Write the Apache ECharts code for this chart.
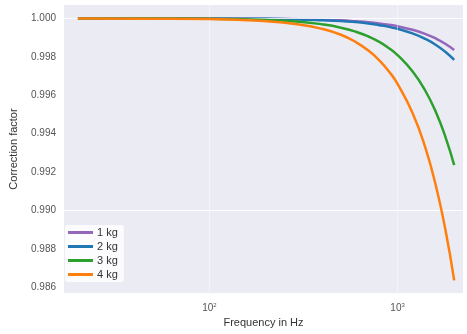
<!DOCTYPE html>
<html><head><meta charset="utf-8">
<script src="https://cdn.jsdelivr.net/npm/echarts@6/dist/echarts.min.js"></script>
<style>html,body{margin:0;padding:0;background:#fff}#c{width:467px;height:334px}</style>
</head><body><div id="c"></div>
<script>
var freqs = [20, 50, 100, 200, 300, 400, 500, 600, 700, 800, 900, 1000, 1200, 1400, 1600, 1800, 2000];
var kg1 = [1.00000, 1.00000, 1.00000, 0.99998, 0.99996, 0.99993, 0.99990, 0.99985, 0.99980, 0.99974, 0.99967, 0.99959, 0.99941, 0.99920, 0.99895, 0.99867, 0.99836];
var kg2 = [1.00000, 1.00000, 0.99999, 0.99998, 0.99995, 0.99991, 0.99987, 0.99981, 0.99974, 0.99965, 0.99956, 0.99946, 0.99922, 0.99894, 0.99862, 0.99825, 0.99784];
var kg3 = [1.00000, 1.00000, 0.99998, 0.99992, 0.99983, 0.99969, 0.99952, 0.99931, 0.99906, 0.99878, 0.99845, 0.99809, 0.99725, 0.99626, 0.99511, 0.99381, 0.99236];
var kg4 = [1.00000, 0.99999, 0.99997, 0.99986, 0.99969, 0.99945, 0.99915, 0.99877, 0.99833, 0.99782, 0.99724, 0.99659, 0.99509, 0.99332, 0.99127, 0.98895, 0.98636];
var seriesNames = ['1 kg', '2 kg', '3 kg', '4 kg'];
var colors = ['#9467bd', '#1f77b4', '#2ca02c', '#ff7f0e'];
var yTicks = [0.986, 0.988, 0.990, 0.992, 0.994, 0.996, 0.998, 1.000];
var xTicks = [100, 1000];
var xTickLabels = {100: '10{s|2}', 1000: '10{s|3}'};

var FONT = "'Liberation Sans', Arial, sans-serif";
var all = [kg1, kg2, kg3, kg4];
var series = all.map(function (vals, i) {
  return {
    name: seriesNames[i], type: 'line', smooth: true, symbol: 'none',
    data: freqs.map(function (f, j) { return [f, vals[j]]; }),
    lineStyle: {width: 2.5, color: colors[i]}, itemStyle: {color: colors[i]}, z: 3 + i
  };
});
series.unshift({
  type: 'line', data: [], silent: true, z: 1,
  markLine: {
    silent: true, symbol: 'none', label: {show: false},
    lineStyle: {color: 'rgba(255,255,255,0.45)', width: 1, type: 'solid'},
    data: yTicks.map(function (v) { return {yAxis: v}; }).concat(xTicks.map(function (v) { return {xAxis: v}; }))
  }
});

var chart = echarts.init(document.getElementById('c'), null, {renderer: 'canvas'});
chart.setOption({
  animation: false,
  backgroundColor: '#ffffff',
  color: colors,
  grid: {left: 61, right: 4, top: 5, bottom: 41, show: true, backgroundColor: '#EBEBF3', borderWidth: 0},
  xAxis: {
    type: 'log', logBase: 10, min: 16.87, max: 2228,
    name: 'Frequency in Hz', nameLocation: 'middle', nameGap: 24,
    nameTextStyle: {fontFamily: FONT, fontSize: 11, color: '#333'},
    axisLine: {show: false}, axisTick: {show: false}, splitLine: {show: false}, minorSplitLine: {show: false},
    axisLabel: {
      customValues: xTicks, margin: 9, fontFamily: FONT, fontSize: 10, color: '#555',
      formatter: function (v) { return xTickLabels[Math.round(v)] || ''; },
      rich: {s: {fontSize: 6, verticalAlign: 'top', padding: [0, 0, 6, 0], fontFamily: FONT, color: '#555'}}
    }
  },
  yAxis: {
    type: 'value', min: 0.9857, max: 1.0007,
    name: 'Correction factor', nameLocation: 'middle', nameGap: 45, nameRotate: 90,
    nameTextStyle: {fontFamily: FONT, fontSize: 11, color: '#333'},
    axisLine: {show: false}, axisTick: {show: false}, splitLine: {show: false},
    axisLabel: {
      customValues: yTicks, margin: 8, fontFamily: FONT, fontSize: 10, color: '#555',
      formatter: function (v) { return v.toFixed(3); }
    }
  },
  legend: {
    data: seriesNames, orient: 'vertical', left: 65, top: 225,
    icon: 'rect', itemWidth: 25, itemHeight: 3, itemGap: 3,
    padding: [2, 6, 2, 3], backgroundColor: 'rgba(255,255,255,0.85)', borderRadius: 3,
    textStyle: {fontFamily: FONT, fontSize: 11, color: '#333', padding: [0, 0, 0, -1]}
  },
  series: series
});
</script></body></html>
